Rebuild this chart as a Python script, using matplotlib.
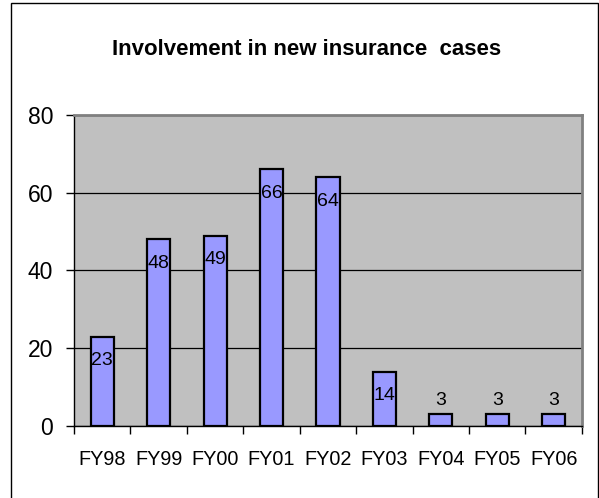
import matplotlib
matplotlib.use("Agg")
import matplotlib.pyplot as plt
from matplotlib.patches import Rectangle

years = ["FY98", "FY99", "FY00", "FY01", "FY02", "FY03", "FY04", "FY05", "FY06"]
cases = [23, 48, 49, 66, 64, 14, 3, 3, 3]
y_ticks = [0, 20, 40, 60, 80]

plt.rcParams["font.family"] = ["Liberation Sans", "DejaVu Sans"]

fig = plt.figure(figsize=(5.99, 4.98), dpi=100)
ax = fig.add_axes([0.1235, 0.1446, 0.848, 0.6245])
ax.set_facecolor("#C0C0C0")

x = list(range(len(years)))
ax.bar(x, cases, width=0.41, color="#9999FF", edgecolor="black", linewidth=1.6, zorder=3)

ax.set_xlim(-0.5, len(years) - 0.5)
ax.set_ylim(0, 80)
ax.set_yticks(y_ticks)
ax.set_yticklabels([str(t) for t in y_ticks], fontsize=16.5)
ax.yaxis.grid(True, color="black", linewidth=0.9, zorder=1)
ax.set_axisbelow(True)

ax.set_xticks(x)
ax.set_xticklabels(years, fontsize=14.3)
ax.set_xticks([i - 0.5 for i in range(len(years) + 1)], minor=True)
ax.tick_params(axis="x", which="major", length=0, pad=17)
ax.tick_params(axis="x", which="minor", length=6, width=1, direction="out")
ax.tick_params(axis="y", length=6, width=1, direction="out", pad=9)

for side in ["top", "right"]:
    ax.spines[side].set_color("#808080")
    ax.spines[side].set_linewidth(2)
for side in ["left", "bottom"]:
    ax.spines[side].set_color("black")
    ax.spines[side].set_linewidth(1)

# value labels: inside end when the bar is tall enough, else above it
for xi, v in zip(x, cases):
    if v > 8:
        ax.annotate(str(v), (xi, v), xytext=(0, -17.5), textcoords="offset points",
                    ha="center", va="center", fontsize=14, zorder=4)
    else:
        ax.annotate(str(v), (xi, v), xytext=(0, 10), textcoords="offset points",
                    ha="center", va="center", fontsize=14, zorder=4)

fig.text(0.511, 0.9006, "Involvement in new insurance  cases", ha="center", va="center",
         fontsize=16, fontweight="bold")

fig.patches.append(Rectangle((11 / 599, -0.05), (598 - 11) / 599, 1.05 - 3 / 498,
                             transform=fig.transFigure, fill=False, edgecolor="black",
                             linewidth=1))

fig.savefig("out.png", dpi=100)
